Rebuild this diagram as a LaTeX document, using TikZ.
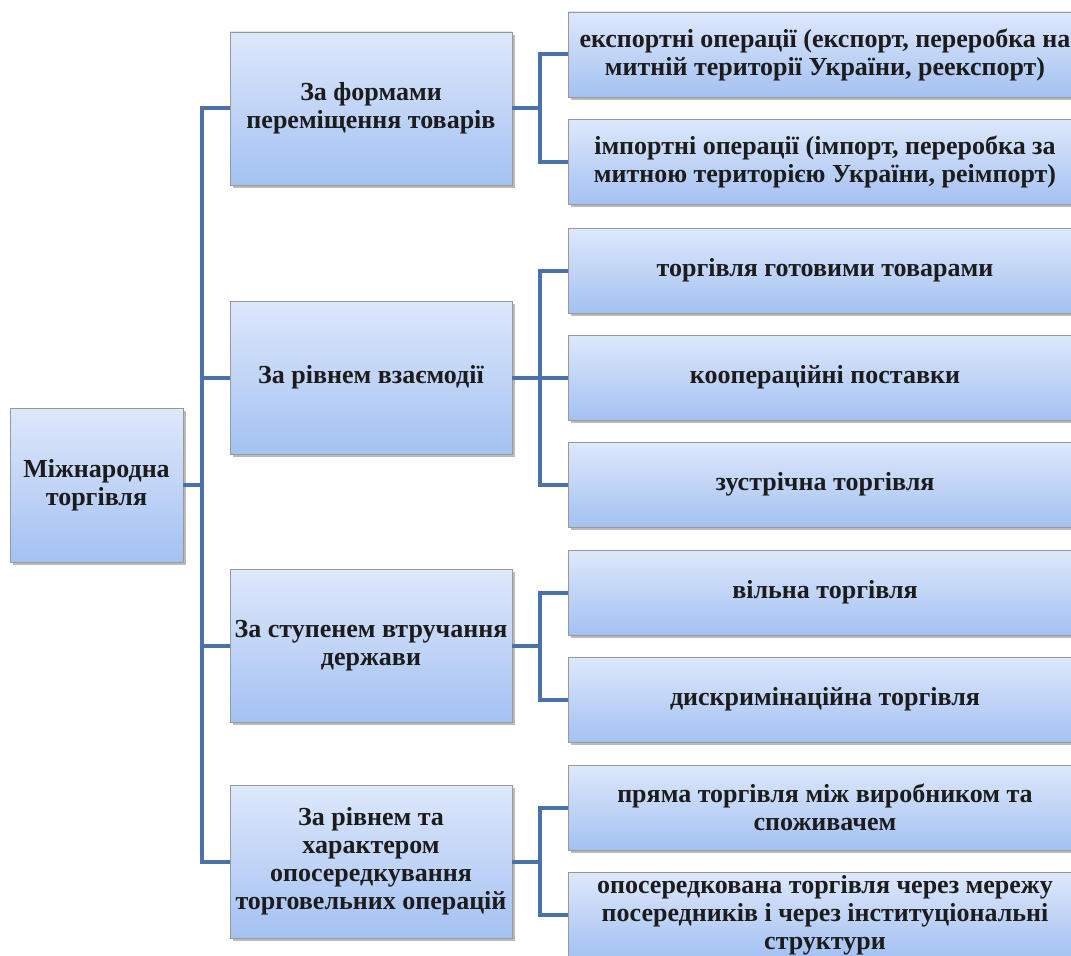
\documentclass[tikz,border=0pt]{standalone}
\usepackage{fontspec}
\setmainfont{Liberation Serif}
\newfontfamily\boxfont{Liberation Serif}[BoldFont={Liberation Serif Bold}]
\usetikzlibrary{shadows}
\definecolor{boxtop}{HTML}{DDE8FB}
\definecolor{boxbot}{HTML}{A4C1F2}
\definecolor{linkblue}{HTML}{4A72A8}
\definecolor{boxtext}{HTML}{1C1C1C}
\begin{document}
\begin{tikzpicture}[x=0.75pt,y=-0.75pt,
    box/.style={draw=gray!80, line width=0.6pt, top color=boxtop, bottom color=boxbot,
      align=center, text=boxtext, font=\boxfont\bfseries\fontsize{19.5}{21}\selectfont,
      inner sep=1pt, outer sep=0pt,
      drop shadow={shadow xshift=2pt, shadow yshift=-2pt, opacity=0.45, fill=black!60}},
    rootbox/.style={box, minimum width=129.75pt, minimum height=115.5pt},
    groupbox/.style={box, minimum width=211.5pt, minimum height=114.75pt},
    itembox/.style={box, minimum width=385.5pt, minimum height=63.75pt},
    link/.style={draw=linkblue, line width=3pt}]
    \useasboundingbox (0,0) rectangle (1071,956);
    \clip (0,0) rectangle (1071,956);

    \node[rootbox] (torgivlia) at (96.5,485) {Міжнародна\\торгівля};

    \node[groupbox] (formy) at (371,108.5) {За формами\\переміщення товарів};
    \node[groupbox] (vzaiemodiia) at (371,377.5) {За рівнем взаємодії};
    \node[groupbox] (vtruchannia) at (371,646) {За ступенем втручання\\держави};
    \node[groupbox] (oposered) at (371,861.5) {За рівнем та\\характером\\опосередкування\\торговельних операцій};

    \node[itembox] (eksport) at (825,54.5) {\makebox[375pt]{експортні операції (експорт, переробка на}\\митній території України, реекспорт)};
    \node[itembox] (import) at (825,162) {імпортні операції (імпорт, переробка за\\митною територією України, реімпорт)};
    \node[itembox] (gotovi) at (825,270.5) {торгівля готовими товарами};
    \node[itembox] (kooper) at (825,377.5) {коопераційні поставки};
    \node[itembox] (zustrichna) at (825,484.5) {зустрічна торгівля};
    \node[itembox] (vilna) at (825,592.5) {вільна торгівля};
    \node[itembox] (dyskrym) at (825,699.5) {дискримінаційна торгівля};
    \node[itembox] (priama) at (825,807.5) {пряма торгівля між виробником та\\споживачем};
    \node[itembox] (oposer) at (825,915) {опосередкована торгівля через мережу\\посередників і через інституціональні\\структури};

    \draw[link] (torgivlia.east) -- ++(19,0) |- (formy.west);
    \draw[link] (torgivlia.east) -- ++(19,0) |- (vzaiemodiia.west);
    \draw[link] (torgivlia.east) -- ++(19,0) |- (vtruchannia.west);
    \draw[link] (torgivlia.east) -- ++(19,0) |- (oposered.west);

    \draw[link] (formy.east) -- ++(28,0) |- (eksport.west);
    \draw[link] (formy.east) -- ++(28,0) |- (import.west);
    \draw[link] (vzaiemodiia.east) -- ++(28,0) |- (gotovi.west);
    \draw[link] (vzaiemodiia.east) -- (kooper.west);
    \draw[link] (vzaiemodiia.east) -- ++(28,0) |- (zustrichna.west);
    \draw[link] (vtruchannia.east) -- ++(28,0) |- (vilna.west);
    \draw[link] (vtruchannia.east) -- ++(28,0) |- (dyskrym.west);
    \draw[link] (oposered.east) -- ++(28,0) |- (priama.west);
    \draw[link] (oposered.east) -- ++(28,0) |- (oposer.west);
\end{tikzpicture}
\end{document}
